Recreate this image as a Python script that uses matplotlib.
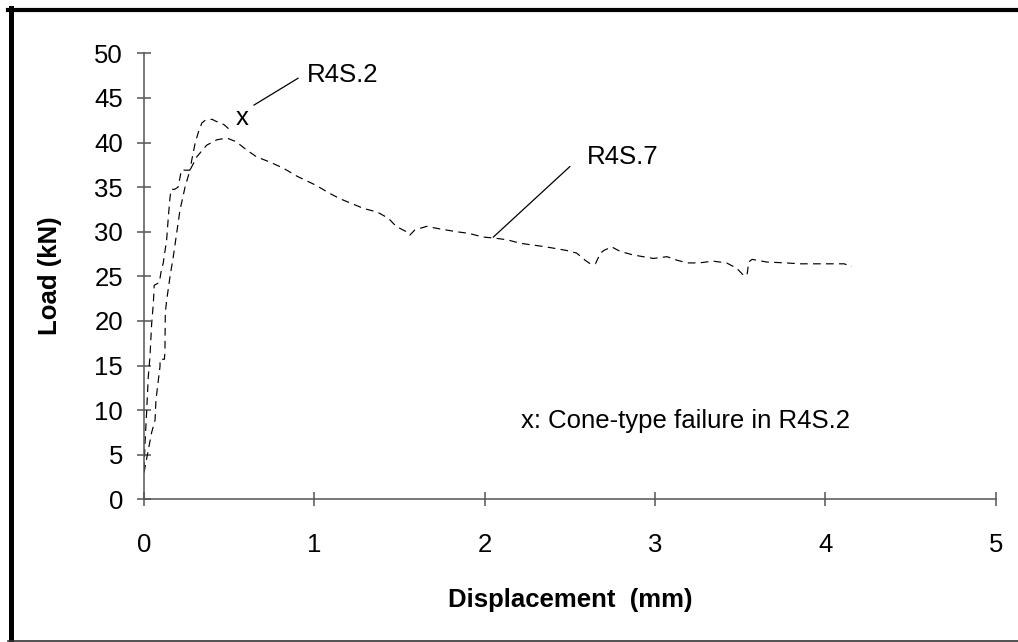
import matplotlib
matplotlib.use("Agg")
import matplotlib.pyplot as plt
from matplotlib.lines import Line2D

# ---- data ----
r4s2_x = [0.0, 0.006, 0.016, 0.025, 0.035, 0.045, 0.055, 0.06, 0.09, 0.10, 0.113, 0.133, 0.143,
          0.153, 0.16, 0.18, 0.20, 0.22, 0.27, 0.28, 0.30, 0.32, 0.34, 0.36, 0.40, 0.42, 0.47, 0.505]
r4s2_y = [3.3, 6.3, 10.0, 13.7, 16.0, 19.7, 22.0, 24.0, 24.3, 25.5, 26.5, 29.1, 31.7,
          33.9, 34.75, 34.75, 35.0, 36.9, 36.9, 38.0, 39.9, 41.2, 42.2, 42.5, 42.6, 42.4, 42.0, 41.4]

r4s7_x = [0.0, 0.025, 0.045, 0.065, 0.07, 0.094, 0.094, 0.12, 0.123, 0.125, 0.133, 0.153, 0.172,
          0.211, 0.241, 0.27, 0.31, 0.368, 0.427, 0.486, 0.54, 0.60, 0.66, 0.74, 0.82, 0.90,
          1.01, 1.09, 1.15, 1.29, 1.37, 1.435, 1.48, 1.54, 1.56, 1.59, 1.66, 1.74, 1.835, 1.91,
          1.99, 2.05, 2.13, 2.21, 2.36, 2.48, 2.54, 2.59, 2.62, 2.65, 2.68, 2.70, 2.745, 2.795,
          2.87, 2.99, 3.07, 3.13, 3.19, 3.26, 3.34, 3.42, 3.48, 3.52, 3.54, 3.55, 3.57, 3.655,
          3.77, 3.85, 3.97, 4.11, 4.155]
r4s7_y = [3.0, 5.5, 7.5, 8.9, 11.1, 14.9, 15.7, 15.7, 16.7, 20.9, 22.3, 25.0, 27.2,
          32.4, 35.0, 36.9, 38.4, 39.7, 40.3, 40.5, 40.1, 39.2, 38.4, 37.8, 37.1, 36.2,
          35.2, 34.3, 33.7, 32.6, 32.2, 31.5, 30.6, 30.0, 29.6, 30.2, 30.6, 30.3, 30.0, 29.8,
          29.4, 29.3, 29.1, 28.7, 28.3, 27.9, 27.6, 26.8, 26.4, 26.4, 27.6, 27.9, 28.3, 27.8,
          27.4, 27.0, 27.2, 26.8, 26.5, 26.5, 26.7, 26.5, 25.9, 25.1, 25.1, 26.6, 26.9, 26.6,
          26.5, 26.4, 26.4, 26.4, 26.1]

x_ticks = [0, 1, 2, 3, 4, 5]
y_ticks = [0, 5, 10, 15, 20, 25, 30, 35, 40, 45, 50]
x_label = "Displacement  (mm)"
y_label = "Load (kN)"
note_text = "x: Cone-type failure in R4S.2"

plt.rcParams['font.family'] = ['Liberation Sans', 'DejaVu Sans']
FS = 18.5

fig = plt.figure(figsize=(10.18, 6.42), dpi=100)
ax = fig.add_axes([144/1018, 142.7/642, (995.7-144)/1018, 446/642])

dash = (0, (6.5, 4.5))
ax.plot(r4s2_x, r4s2_y, color='black', lw=0.85, linestyle=dash)
ax.plot(r4s7_x, r4s7_y, color='black', lw=0.85, linestyle=dash)

ax.set_xlim(0, 5)
ax.set_ylim(0, 50)
ax.set_xticks(x_ticks)
ax.set_yticks(y_ticks)
for s in ['top', 'right']:
    ax.spines[s].set_visible(False)
for s in ['left', 'bottom']:
    ax.spines[s].set_color('#555555')
    ax.spines[s].set_linewidth(1.1)
ax.tick_params(axis='both', direction='inout', length=10, width=1.1, color='#555555',
               labelsize=FS)
ax.tick_params(axis='x', pad=19)
ax.tick_params(axis='y', pad=10)

# annotations
ax.plot([0.646, 0.904], [44.2, 47.2], color='black', lw=0.9)
ax.text(0.957, 47.6, "R4S.2", fontsize=FS, va='center', ha='left')
ax.plot([2.051, 2.50], [29.4, 37.3], color='black', lw=0.9)
ax.text(2.60, 38.4, "R4S.7", fontsize=FS, va='center', ha='left')
ax.text(0.578, 42.8, "x", fontsize=FS, va='center', ha='center')
ax.text(2.216, 8.0, note_text, fontsize=FS, va='baseline', ha='left')

fig.text(570/1018, 1-600/642, x_label, fontsize=FS, fontweight='bold', ha='center', va='center')
fig.text(50/1018, 1-276/642, y_label, fontsize=FS, fontweight='bold', ha='center', va='center',
         rotation=90)

# outer frame
fig.add_artist(Line2D([8/1018, 1.0], [1-10/642, 1-10/642], color='black', lw=3.0,
                      transform=fig.transFigure))
fig.add_artist(Line2D([10.8/1018, 10.8/1018], [1-8/642, 1-640.5/642], color='black', lw=3.6,
                      transform=fig.transFigure))
fig.add_artist(Line2D([8/1018, 1.0], [1-640.5/642, 1-640.5/642], color='#333333', lw=1.2,
                      transform=fig.transFigure))

fig.savefig("out.png", dpi=100)
